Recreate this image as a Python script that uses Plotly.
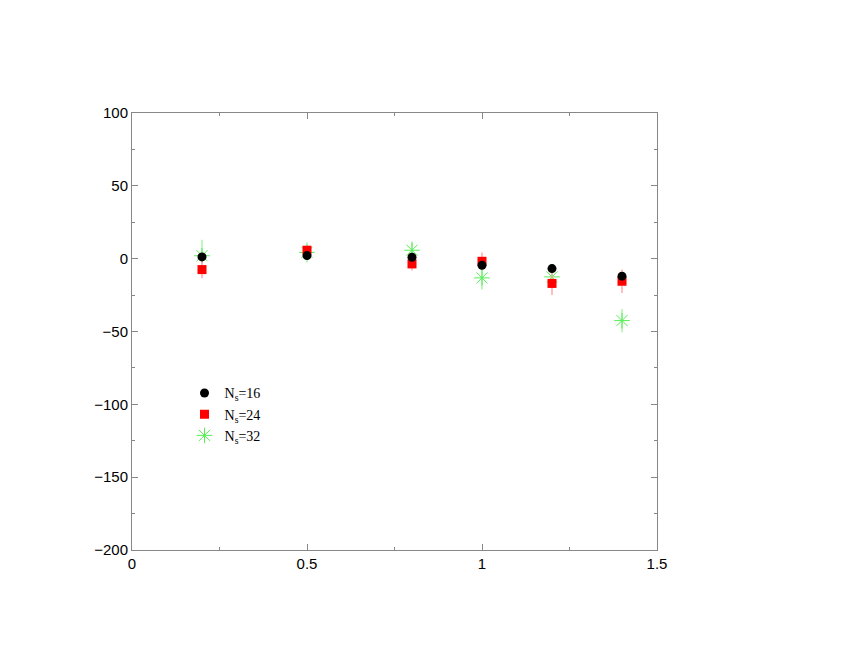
import plotly.graph_objects as go

x_vals = [0.2, 0.5, 0.8, 1.0, 1.2, 1.4]

ns16 = [1.2, 2.1, 1.0, -4.5, -6.8, -12.0]
ns16_err = [2, 2, 2, 2, 2, 2]

ns24 = [-7.5, 5.8, -3.6, -1.8, -17.0, -15.5]
ns24_err = [6, 3, 4.5, 6, 8, 8]

ns32 = [2.0, 4.3, 5.8, -13.2, -12.5, -42.5]
ns32_err = [11, 7, 6, 8, 4, 8]

fig = go.Figure()

fig.add_trace(go.Scatter(
    x=x_vals, y=ns32, mode="markers", name="N<sub>s</sub>=32",
    marker=dict(symbol="asterisk-open", size=13, color="#55ee55",
                line=dict(color="#55ee55", width=1)),
    error_y=dict(type="data", array=ns32_err, color="#aaf5aa", thickness=1.5, width=0),
))
fig.add_trace(go.Scatter(
    x=x_vals, y=ns24, mode="markers", name="N<sub>s</sub>=24",
    marker=dict(symbol="square", size=9, color="#ff0000"),
    error_y=dict(type="data", array=ns24_err, color="#ffaaaa", thickness=1.5, width=0),
))
fig.add_trace(go.Scatter(
    x=x_vals, y=ns16, mode="markers", name="N<sub>s</sub>=16",
    marker=dict(symbol="circle", size=9, color="#000000"),
    error_y=dict(type="data", array=ns16_err, color="#999999", thickness=1, width=0),
))

axis_style = dict(
    showline=True, linecolor="#888888", linewidth=1, mirror="ticks",
    ticks="inside", ticklen=6, tickcolor="#888888",
    showgrid=False, zeroline=False,
    tickfont=dict(family="Liberation Sans, Arial", size=15, color="#000000"),
)

fig.update_xaxes(range=[0, 1.5], tickvals=[0, 0.5, 1, 1.5], ticktext=["0", "0.5", "1", "1.5"],
                 minor=dict(dtick=0.25, ticks="inside", ticklen=3, tickcolor="#888888"),
                 **axis_style)
fig.update_yaxes(range=[-200, 100],
                 tickvals=[-200, -150, -100, -50, 0, 50, 100],
                 ticktext=["\u2212200", "\u2212150", "\u2212100", "\u221250", "0", "50", "100"],
                 minor=dict(dtick=25, ticks="inside", ticklen=3, tickcolor="#888888"),
                 **axis_style)

fig.update_layout(
    width=860, height=664,
    margin=dict(l=124, r=211, t=105, b=122),
    paper_bgcolor="white", plot_bgcolor="white",
    legend=dict(x=0.1, y=0.395, xanchor="left", yanchor="top", traceorder="reversed",
                font=dict(family="Liberation Serif, Times New Roman", size=14, color="#000000"),
                bgcolor="rgba(0,0,0,0)", itemwidth=30, tracegroupgap=0),
    showlegend=True,
)

fig.write_html("out.html")
